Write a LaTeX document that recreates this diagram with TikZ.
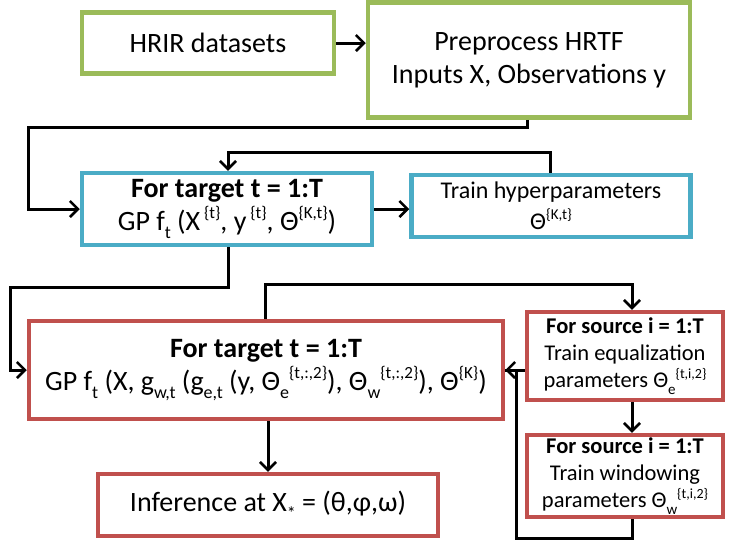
\documentclass[tikz,border=0pt]{standalone}
\usepackage{fontspec}
\setmainfont{Carlito}
\usetikzlibrary{arrows.meta}
\definecolor{cgreen}{HTML}{9BBB59}
\definecolor{cblue}{HTML}{4BACC6}
\definecolor{cred}{HTML}{C0504D}
\newcommand\up[2][16]{\raisebox{.42em}{\fontsize{#1}{#1}\selectfont #2}}
\newcommand\dn[2][16]{\raisebox{-.28em}{\fontsize{#1}{#1}\selectfont #2}}
\begin{document}
\begin{tikzpicture}[x=1pt,y=-1pt,
  box/.style={draw, line width=4.5pt, fill=white, align=center, inner sep=2pt, minimum width=#1},
  conn/.style={draw=black, line width=3pt, -{Straight Barb[length=8pt,width=16pt,line width=2.6pt]}},
  plain/.style={draw=black, line width=3pt},
  big/.style={font=\fontsize{28}{33}\selectfont},
  mid/.style={font=\fontsize{22.5}{27}\selectfont},
  small/.style={font=\fontsize{24}{28}\selectfont}]
\useasboundingbox (0,0) rectangle (736,550);
\node[box=252pt, draw=cgreen, minimum height=61pt, big] (hrir) at (208,43) {HRIR datasets};
\node[box=322pt, draw=cgreen, minimum height=115pt, big] (prep) at (529,60) {Preprocess HRTF\\Inputs X, Observations y};
\node[box=290pt, draw=cblue, minimum height=72pt, big] (gp1) at (227,209) {\textbf{For target t = 1:T}\\GP f\dn[18]{t} (X\up[17]{ \{t\}}, y\up[17]{ \{t\}}, Θ\up[17]{\{K,t\}})};
\node[box=279pt, draw=cblue, minimum height=62pt, small] (hyp) at (551,206) {Train hyperparameters\\[3pt]Θ\up[15]{\{K,t\}}};
\node[box=474pt, draw=cred, minimum height=98pt, big] (gp2) at (266,370) {\textbf{For target t = 1:T}\\GP f\dn[18]{t} (X, g\dn[18]{w,t} (g\dn[18]{e,t} (y, Θ\dn[18]{e}\up[17]{\{t,:,2\}}), Θ\dn[18]{w}\up[17]{\{t,:,2\}}), Θ\up[17]{\{K\}})};
\node[box=196pt, draw=cred, minimum height=88pt, mid] (src1) at (625,356) {\textbf{For source i = 1:T}\\Train equalization\\parameters Θ\dn[15]{e}\up[14]{\{t,i,2\}}};
\node[box=196pt, draw=cred, minimum height=82pt, mid] (src2) at (625,476) {\textbf{For source i = 1:T}\\Train windowing\\parameters Θ\dn[15]{w}\up[14]{\{t,i,2\}}};
\node[box=340pt, draw=cred, minimum height=62pt, big] (inf) at (268,505) {Inference at X\dn[18]{*} = (θ,φ,ω)};

\coordinate (p1) at (527,127);
\coordinate (p2) at (28,127);
\coordinate (l1) at (228,152);
\coordinate (l2) at (550,152);
\coordinate (q1) at (228,287);
\coordinate (q2) at (10,287);
\coordinate (r1) at (265,284);
\coordinate (r2) at (632,284);
\coordinate (s1) at (632,538);
\coordinate (s2) at (516,538);

\draw[conn] (hrir.east) -- (hrir.east -| prep.west);
\draw[conn] (prep.south -| p1) -- (p1) -- (p2) |- (gp1.west);
\draw[conn] (gp1.east) -- (gp1.east -| hyp.west);
\draw[conn] (hyp.north -| l2) -- (l2) -- (l1) -- (gp1.north -| l1);
\draw[conn] (gp1.south -| q1) -- (q1) -- (q2) |- (gp2.west);
\draw[conn] (gp2.north -| r1) -- (r1) -- (r2) -- (src1.north -| r2);
\draw[conn] (src1.west |- gp2.east) -- (gp2.east);
\draw[conn] (src1.south -| r2) -- (src2.north -| r2);
\draw[plain] (src2.south -| s1) -- (s1) -- (s2) -- (s2 |- gp2.east) -- (gp2.east);
\draw[conn] (gp2.south -| inf.north) -- (inf.north);
\end{tikzpicture}
\end{document}
